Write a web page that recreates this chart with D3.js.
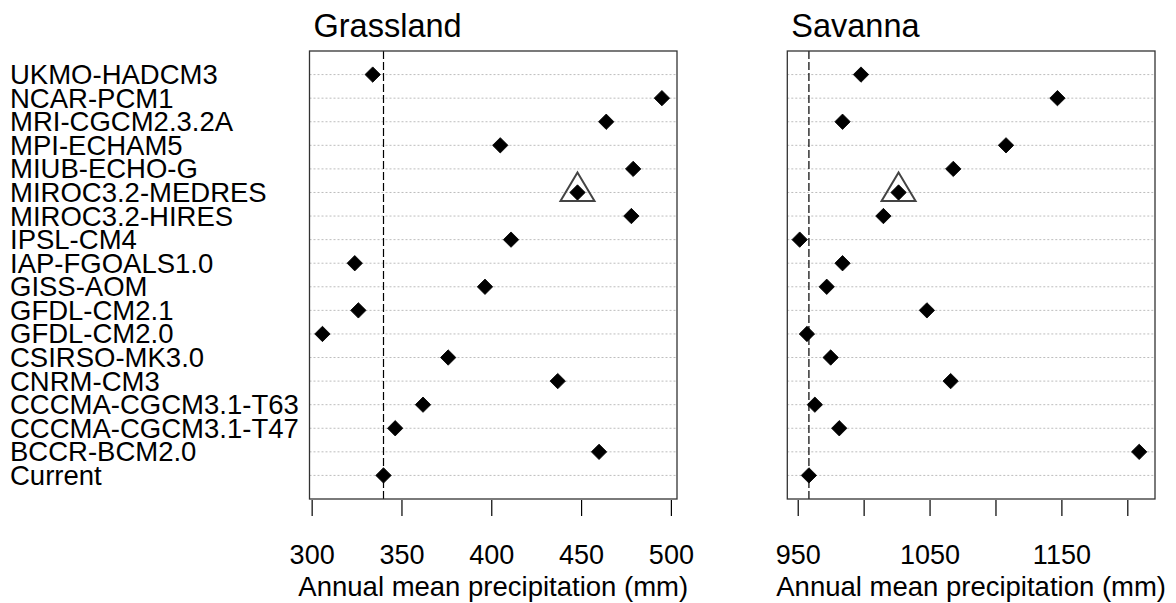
<!DOCTYPE html>
<html><head><meta charset="utf-8">
<script src="https://cdn.jsdelivr.net/npm/d3@7"></script>
<style>
html,body{margin:0;padding:0;background:#fff;}
svg text{font-family:"Liberation Sans",Arial,Helvetica,sans-serif;fill:#000;}
</style>
</head><body>
<svg id="c" width="1176" height="603"></svg>
<script>
// Categories from top to bottom
const models = ["UKMO-HADCM3","NCAR-PCM1","MRI-CGCM2.3.2A","MPI-ECHAM5","MIUB-ECHO-G","MIROC3.2-MEDRES","MIROC3.2-HIRES","IPSL-CM4","IAP-FGOALS1.0","GISS-AOM","GFDL-CM2.1","GFDL-CM2.0","CSIRSO-MK3.0","CNRM-CM3","CCCMA-CGCM3.1-T63","CCCMA-CGCM3.1-T47","BCCR-BCM2.0","Current"];
const grassland = [334,495,464,405,479,448,478,411,324,396.5,326,306,376,437,362,346.5,460,340];
const savanna   = [998,1147,984,1108,1068,1026.5,1015,951.5,984,972,1048,957,975,1066,963,981.5,1209,958.5];
const highlighted = "MIROC3.2-MEDRES";
const panelTitles = ["Grassland","Savanna"];
const grassTicks = [300,350,400,450,500];
const grassTickLabels = ["300","350","400","450","500"];
const savTicks = [950,1000,1050,1100,1150,1200];
const savTickLabels = ["950","","1050","","1150",""];
const xTitle = "Annual mean precipitation (mm)";
const currentLabel = "Current";

const svg = d3.select("#c");
const plotTop = 51, plotBottom = 499;
const n = models.length;
// row position: Current at 1 (bottom), first model at n (top)
const y = d3.scaleLinear().domain([0, n+1]).range([plotBottom, plotTop]);
const rowPos = i => y(n - i);

// labels
svg.append("g").selectAll("text").data(models).join("text")
  .attr("x", 10).attr("y", (d,i)=>rowPos(i)+9.5)
  .attr("font-size", 27.5)
  .text(d=>d);

function panel(values, domain, range, ticks, tickLabels, title) {
  const x = d3.scaleLinear().domain(domain).range(range);
  const g = svg.append("g");
  // grid lines
  g.selectAll("line.grid").data(models).join("line")
    .attr("x1", range[0]).attr("x2", range[1])
    .attr("y1",(d,i)=>rowPos(i)).attr("y2",(d,i)=>rowPos(i))
    .attr("stroke","#bdbdbd").attr("stroke-width",1).attr("stroke-dasharray","2,2");
  // current reference line
  const cur = values[models.indexOf(currentLabel)];
  g.append("line").attr("x1",x(cur)).attr("x2",x(cur)).attr("y1",plotTop).attr("y2",plotBottom)
    .attr("stroke","#000").attr("stroke-width",1.2).attr("stroke-dasharray","8,3");
  // box
  g.append("rect").attr("x",range[0]).attr("y",plotTop).attr("width",range[1]-range[0]).attr("height",plotBottom-plotTop)
    .attr("fill","none").attr("stroke","#333").attr("stroke-width",1.3);
  // points (diamonds)
  g.selectAll("path.pt").data(values).join("path")
    .attr("d", d3.symbol().type(d3.symbolSquare).size(118))
    .attr("transform",(d,i)=>`translate(${x(d)},${rowPos(i)}) rotate(45)`)
    .attr("fill","#000").attr("stroke","#000").attr("stroke-width",0.8).attr("stroke-linejoin","round");
  // highlight triangle
  const hi = models.indexOf(highlighted);
  const hx = x(values[hi]), hy = rowPos(hi);
  g.append("path")
    .attr("d", `M${hx},${hy-20}L${hx+17},${hy+8.5}L${hx-17},${hy+8.5}Z`)
    .attr("fill","none").attr("stroke","#444").attr("stroke-width",2);
  // axis
  const ax = g.append("g").attr("transform",`translate(0,${plotBottom+1})`)
    .call(d3.axisBottom(x).tickValues(ticks).tickSize(16).tickFormat((d,i)=>tickLabels[i]));
  ax.select(".domain").remove();
  ax.selectAll("line").attr("stroke","#000").attr("stroke-width",1.2);
  ax.selectAll("text").attr("font-size",27).attr("font-family",null).attr("dy",null).attr("y",64);
  // axis title
  g.append("text").attr("x",(range[0]+range[1])/2).attr("y",596).attr("text-anchor","middle")
    .attr("font-size",27.5).text(xTitle);
  // panel title
  g.append("text").attr("x",range[0]+4).attr("y",37).attr("font-size",32.5).text(title);
}

panel(grassland, [298.8, 503.4], [309.5, 677], grassTicks, grassTickLabels, panelTitles[0]);
panel(savanna, [942.1, 1221], [787.3, 1155], savTicks, savTickLabels, panelTitles[1]);
</script>
</body></html>
